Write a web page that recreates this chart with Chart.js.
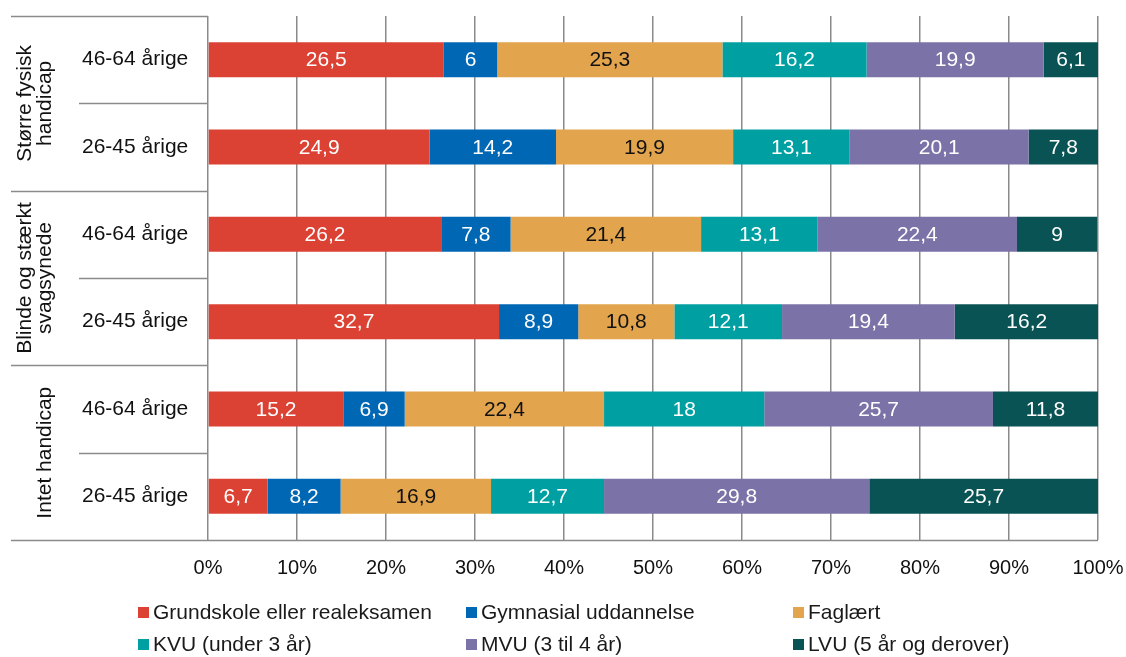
<!DOCTYPE html>
<html>
<head>
<meta charset="utf-8">
<script src="https://cdn.jsdelivr.net/npm/chart.js@4/dist/chart.umd.min.js"></script>
<style>
  html, body { margin: 0; padding: 0; background: #fff; }
  #wrap { position: relative; width: 1126px; height: 657px; font-family: "Liberation Sans", Arial, sans-serif; }
  canvas { position: absolute; left: 0; top: 0; }
  .lg { position: absolute; font-size: 21px; color: #1a1a1a; white-space: nowrap; line-height: 24px; }
  .lg span.m { position: absolute; left: -15px; top: 7px; width: 11px; height: 11px; }
</style>
</head>
<body>
<div id="wrap">
  <canvas id="c" width="1126" height="657"></canvas>
  <div id="legend"></div>
</div>
<script>
// ---- Data ----
const categories = ["46-64 årige", "26-45 årige", "46-64 årige", "26-45 årige", "46-64 årige", "26-45 årige"];
const groups = [["Større fysisk", "handicap"], ["Blinde og stærkt", "svagsynede"], ["Intet handicap"]];
const seriesNames = ["Grundskole eller realeksamen", "Gymnasial uddannelse", "Faglært", "KVU (under 3 år)", "MVU (3 til 4 år)", "LVU (5 år og derover)"];
const grundskole = [26.5, 24.9, 26.2, 32.7, 15.2, 6.7];
const gymnasial  = [6, 14.2, 7.8, 8.9, 6.9, 8.2];
const faglaert   = [25.3, 19.9, 21.4, 10.8, 22.4, 16.9];
const kvu        = [16.2, 13.1, 13.1, 12.1, 18, 12.7];
const mvu        = [19.9, 20.1, 22.4, 19.4, 25.7, 29.8];
const lvu        = [6.1, 7.8, 9, 16.2, 11.8, 25.7];
const xTicks = [0, 10, 20, 30, 40, 50, 60, 70, 80, 90, 100];

const colors = ["#DC4234", "#0067B4", "#E2A44D", "#00A0A2", "#7B72A7", "#0A5354"];
const labelColors = ["#fff", "#fff", "#111", "#fff", "#fff", "#fff"];
const values = [grundskole, gymnasial, faglaert, kvu, mvu, lvu];

const FONT = '"Liberation Sans", Arial, sans-serif';
const LINE = "#8a8a8a";

const tablePlugin = {
  id: "table",
  afterDraw(chart) {
    const ctx = chart.ctx;
    const ys = chart.scales.y;
    const ca = chart.chartArea;
    ctx.save();
    ctx.strokeStyle = LINE;
    ctx.lineWidth = 1.5;
    // horizontal table lines
    for (let i = 0; i <= categories.length; i++) {
      const y = Math.round(ys.getPixelForValue(i - 0.5)) + 0.5;
      const x0 = (i % 2 === 0) ? 11 : 79;
      ctx.beginPath();
      ctx.moveTo(x0, y);
      ctx.lineTo(i === categories.length ? ca.right : ca.left, y);
      ctx.stroke();
    }
    // category labels
    ctx.fillStyle = "#111";
    ctx.font = "21px " + FONT;
    ctx.textAlign = "left";
    ctx.textBaseline = "middle";
    categories.forEach((c, i) => {
      ctx.fillText(c, 82, ys.getPixelForValue(i));
    });
    // group labels (rotated)
    groups.forEach((g, gi) => {
      const yc = (ys.getPixelForValue(gi * 2) + ys.getPixelForValue(gi * 2 + 1)) / 2;
      ctx.save();
      ctx.translate(0, yc);
      ctx.rotate(-Math.PI / 2);
      ctx.textAlign = "center";
      ctx.textBaseline = "middle";
      const lh = 20;
      g.forEach((t, li) => {
        const x = 45 - (g.length - 1 - li) * lh;
        ctx.fillText(t, 0, x);
      });
      ctx.restore();
    });
    // data labels
    ctx.font = "21px " + FONT;
    ctx.textAlign = "center";
    ctx.textBaseline = "middle";
    chart.data.datasets.forEach((ds, di) => {
      const meta = chart.getDatasetMeta(di);
      meta.data.forEach((bar, i) => {
        const v = ds.data[i];
        const xc = (bar.x + bar.base) / 2;
        ctx.fillStyle = labelColors[di];
        ctx.fillText(String(v).replace(".", ","), xc, bar.y + 1);
      });
    });
    ctx.restore();
  }
};

const chart = new Chart(document.getElementById("c"), {
  type: "bar",
  data: {
    labels: categories,
    datasets: seriesNames.map((n, i) => ({
      label: n,
      data: values[i],
      backgroundColor: colors[i],
      borderWidth: 0,
      barPercentage: 0.4,
      categoryPercentage: 1.0
    }))
  },
  options: {
    indexAxis: "y",
    responsive: false,
    animation: false,
    layout: { padding: { left: 208, right: 28, top: 16, bottom: 61 } },
    plugins: { legend: { display: false }, tooltip: { enabled: false } },
    scales: {
      x: {
        stacked: true,
        min: 0, max: 100,
        afterBuildTicks(axis) { axis.ticks = xTicks.map(v => ({ value: v })); },
        afterFit(axis) { axis.paddingLeft = 0; axis.paddingRight = 0; },
        ticks: {
          callback: v => v + "%",
          color: "#111",
          font: { size: 20, family: FONT },
          padding: 16,
          maxRotation: 0
        },
        grid: { color: LINE, lineWidth: 1.5, drawTicks: false },
        border: { display: false }
      },
      y: {
        stacked: true,
        display: false
      }
    }
  },
  plugins: [tablePlugin]
});

// HTML legend
const lgPos = [[153, 600], [481, 600], [808, 600], [153, 632], [481, 632], [808, 632]];
const lg = document.getElementById("legend");
seriesNames.forEach((n, i) => {
  const d = document.createElement("div");
  d.className = "lg";
  d.style.left = lgPos[i][0] + "px";
  d.style.top = lgPos[i][1] + "px";
  d.innerHTML = '<span class="m" style="background:' + colors[i] + '"></span>' + n;
  lg.appendChild(d);
});
</script>
</body>
</html>
